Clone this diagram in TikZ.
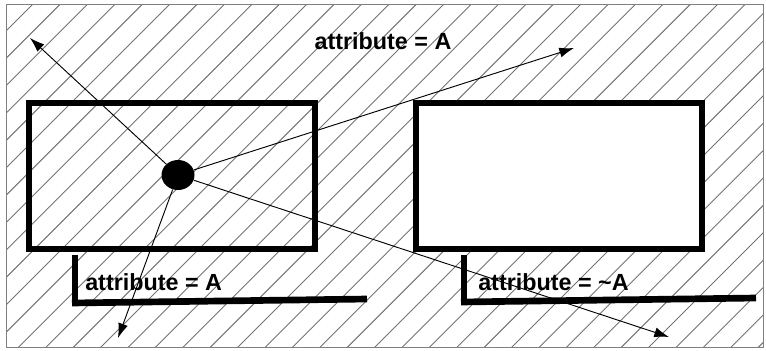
\documentclass[tikz,border=0pt]{standalone}
\usepackage{fontspec}
\setmainfont{Liberation Sans}
\usetikzlibrary{arrows.meta,shapes.geometric}

\begin{document}
\begin{tikzpicture}[
  x=0.75pt, y=-0.75pt,
  font=\fontsize{17.5}{20}\selectfont\bfseries,
  hatch/.style={draw=black!55, line width=0.7pt},
  box/.style={draw, line width=4.5pt, minimum width=214.5pt,
              minimum height=109.5pt, inner sep=0pt},
  bar/.style={line width=5pt},
  arr/.style={-{Latex[length=11pt, width=7.5pt]}, line width=0.7pt},
  lbl/.style={anchor=base west, inner sep=0pt}
]
\useasboundingbox (0,0) rectangle (766,350);
\begin{scope}
  \clip (6,4) rectangle (763,347);
  \foreach \k in {-2,...,40}
    \draw[hatch] (33+27.4*\k,4) -- (33+27.4*\k-360,364);
\end{scope}
\draw[black!50, line width=0.7pt] (6,4) rectangle (763,347);

\node[box] (left) at (172,176) {};
\node[box, fill=white] (right) at (559,176) {};
\node[ellipse, fill=black, minimum width=24.75pt, minimum height=22.5pt,
      inner sep=0pt] (dot) at (178,175) {};

\coordinate (nw) at (30,38);
\coordinate (ne) at (574,48);
\coordinate (sw) at (118,338);
\coordinate (se) at (669,337);
\draw[arr] (dot) -- (nw);
\draw[arr] (dot) -- (ne);
\draw[arr] (dot) -- (sw);
\draw[arr] (dot) -- (se);

\draw[bar] (75,255) -- (75,305);
\draw[bar] (72,303) -- (367,299);
\draw[bar] (464,255) -- (464,305);
\draw[bar] (461,302) -- (756,298);

\node[lbl, anchor=base] (top) at (383,49) {attribute = A};
\node[lbl] (attA) at (85,290) {attribute = A};
\node[lbl] (attnotA) at (478,290) {attribute = \textasciitilde A};
\end{tikzpicture}
\end{document}
